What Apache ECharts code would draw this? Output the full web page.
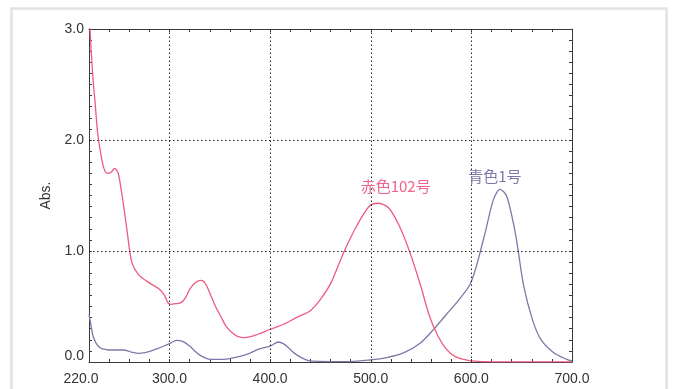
<!DOCTYPE html>
<html><head><meta charset="utf-8">
<script src="https://cdn.jsdelivr.net/npm/echarts@6/dist/echarts.min.js"></script>
<style>html,body{margin:0;padding:0;background:#fff}#c{width:675px;height:389px}</style>
</head><body><div id="c"></div>
<script>
// Wavelengths (nm) and absorbance for 赤色102号 (red)
const redX = [220, 221, 224, 226.4, 228.5, 232, 235, 238.3, 242, 245.5, 249, 252, 255, 258, 262.5, 269, 279.6, 290, 295, 298.7, 301, 306, 311.5, 316, 320, 325, 330.6, 334, 337, 341, 345.5, 351, 356, 362, 367, 375, 388, 400, 413.6, 426, 439.5, 450, 460.6, 473, 486, 498.7, 507, 517.7, 528.4, 539, 549.7, 558.3, 566.8, 575.3, 584, 596.6, 610, 640, 700];
const redY = [3.3, 3.0, 2.55, 2.3, 2.07, 1.86, 1.74, 1.70, 1.71, 1.745, 1.70, 1.55, 1.37, 1.17, 0.90, 0.79, 0.715, 0.655, 0.60, 0.53, 0.52, 0.525, 0.535, 0.58, 0.655, 0.71, 0.735, 0.725, 0.685, 0.60, 0.505, 0.41, 0.325, 0.265, 0.234, 0.22, 0.25, 0.295, 0.34, 0.40, 0.46, 0.565, 0.715, 0.985, 1.225, 1.405, 1.43, 1.39, 1.225, 0.985, 0.685, 0.415, 0.234, 0.114, 0.048, 0.015, 0.004, 0.002, 0.002];
// Absorbance for 青色1号 (blue)
const blueX = [220, 222, 224, 227, 230.6, 235, 239, 247, 254, 262, 269, 276, 282, 288, 294.5, 301, 307, 313, 320, 325, 330.6, 336, 341, 354, 362, 371, 380, 388, 400, 408.5, 413, 418, 424, 431, 439.5, 460, 480, 499, 516, 533, 549.7, 562.5, 575.3, 588, 598.7, 605, 613.7, 622, 628.5, 635, 643.6, 652, 660.6, 669, 681.9, 694.7, 700];
const blueY = [0.43, 0.33, 0.234, 0.17, 0.13, 0.115, 0.108, 0.108, 0.108, 0.09, 0.078, 0.085, 0.10, 0.12, 0.144, 0.17, 0.195, 0.185, 0.144, 0.10, 0.06, 0.035, 0.024, 0.024, 0.035, 0.054, 0.08, 0.114, 0.144, 0.18, 0.165, 0.13, 0.08, 0.04, 0.01, 0.004, 0.004, 0.018, 0.04, 0.084, 0.174, 0.294, 0.43, 0.565, 0.70, 0.865, 1.165, 1.465, 1.555, 1.495, 1.165, 0.685, 0.384, 0.204, 0.084, 0.024, 0.01];
const xMajor = [300, 400, 500, 600];
const yMajor = [1, 2];
const xLabels = [220, 300, 400, 500, 600, 700];
const yLabels = [0, 1, 2, 3];
const redName = '赤色102号';
const blueName = '青色1号';
const redLabelAt = [524.8, 1.584];
const blueLabelAt = [623.4, 1.674];

const pairs = (xs, ys) => xs.map((x, i) => [x, ys[i]]);
const axisCol = '#3a3a3a';
const font = 'Liberation Sans, Arial, sans-serif';

const chart = echarts.init(document.getElementById('c'), null, {renderer: 'canvas'});
const xAxisBase = {
  type: 'value', min: 220, max: 700, interval: 20,
  axisLine: {show: true, onZero: false, lineStyle: {color: axisCol, width: 1}},
  axisTick: {show: true, inside: true, length: 3, lineStyle: {color: axisCol}},
  splitLine: {show: false}
};
const yAxisBase = {
  type: 'value', min: 0, max: 3, interval: 0.1,
  axisLine: {show: true, onZero: false, lineStyle: {color: axisCol, width: 1}},
  axisTick: {show: true, inside: true, length: 3, lineStyle: {color: axisCol}},
  splitLine: {show: false}
};
chart.setOption({
  animation: false,
  backgroundColor: '#fff',
  graphic: [{
    type: 'rect', silent: true, z: -1,
    shape: {x: 11.5, y: 8.5, width: 655, height: 400},
    style: {fill: 'none', stroke: '#e2e2e2', lineWidth: 2.5}
  }],
  grid: {left: 89, right: 103, top: 29, bottom: 27, show: false},
  xAxis: [
    Object.assign({}, xAxisBase, {
      position: 'bottom',
      axisLabel: {
        show: true, margin: 10, color: '#333', fontSize: 14, fontFamily: font,
        formatter: v => {
          const r = Math.round(v);
          if (!xLabels.includes(r)) return '';
          if (r === xLabels[0]) return '{a|' + r.toFixed(1) + '}';
          return r.toFixed(1);
        },
        rich: {a: {color: '#333', fontSize: 14, fontFamily: font, padding: [0, 16, 0, 0]}}
      }
    }),
    Object.assign({}, xAxisBase, {position: 'top', axisLabel: {show: false}})
  ],
  yAxis: [
    Object.assign({}, yAxisBase, {
      position: 'left',
      name: 'Abs.', nameLocation: 'middle', nameRotate: 90, nameGap: 33,
      nameTextStyle: {color: '#333', fontSize: 14, fontFamily: font},
      axisLabel: {
        show: true, margin: 5, color: '#333', fontSize: 14, fontFamily: font,
        formatter: v => {
          const r = Math.round(v);
          if (!(Math.abs(v - r) < 1e-6 && yLabels.includes(r))) return '';
          if (r === 0) return '{b|' + r.toFixed(1) + '}';
          return r.toFixed(1);
        },
        rich: {b: {color: '#333', fontSize: 14, fontFamily: font, padding: [0, 0, 12, 0]}}
      }
    }),
    Object.assign({}, yAxisBase, {position: 'right', axisLabel: {show: false}})
  ],
  series: [
    {
      name: redName, type: 'line', data: pairs(redX, redY),
      xAxisIndex: 0, yAxisIndex: 0, smooth: 0.3, showSymbol: false, clip: true,
      lineStyle: {color: '#ee5a80', width: 1.3}, z: 3,
      markLine: {
        silent: true, symbol: 'none', label: {show: false},
        lineStyle: {color: '#222', type: [1.5, 2.5], width: 1},
        data: xMajor.map(v => ({xAxis: v})).concat(yMajor.map(v => ({yAxis: v})))
      },
      markPoint: {
        silent: true, symbol: 'circle', symbolSize: 0,
        label: {show: true, position: 'inside', formatter: redName, color: '#f0628a', fontSize: 15,
          fontFamily: 'Noto Sans CJK JP, sans-serif'},
        data: [{coord: redLabelAt}]
      }
    },
    {
      name: blueName, type: 'line', data: pairs(blueX, blueY),
      xAxisIndex: 0, yAxisIndex: 0, smooth: 0.3, showSymbol: false, clip: true,
      lineStyle: {color: '#7a7aaa', width: 1.3}, z: 2,
      markPoint: {
        silent: true, symbol: 'circle', symbolSize: 0,
        label: {show: true, position: 'inside', formatter: blueName, color: '#7c79a8', fontSize: 15,
          fontFamily: 'Noto Sans CJK JP, sans-serif'},
        data: [{coord: blueLabelAt}]
      }
    }
  ]
});
</script></body></html>
